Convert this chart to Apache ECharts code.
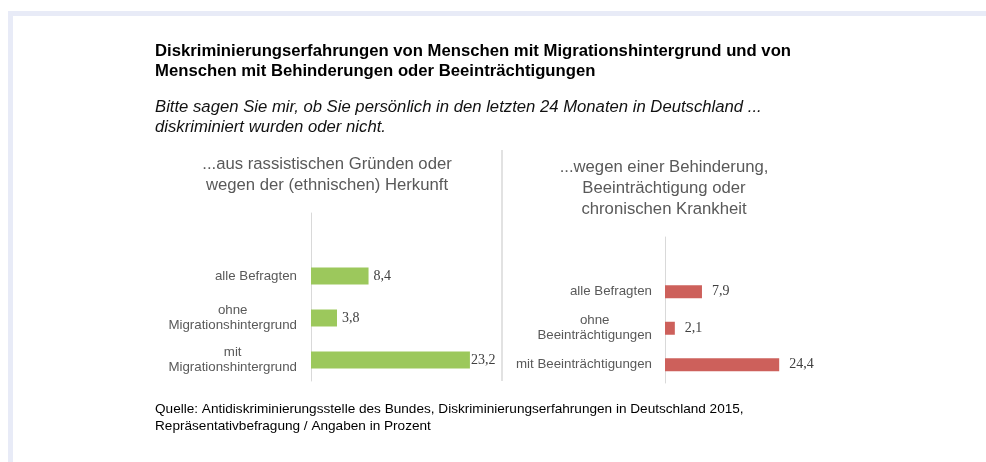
<!DOCTYPE html>
<html lang="de">
<head>
  <meta charset="UTF-8">
  <title>Diskriminierungserfahrungen</title>
  <style>
    html, body { margin: 0; padding: 0; background: #fff; }
    #chart { width: 986px; height: 462px; }
  </style>
</head>
<body>
<div id="chart"></div>
<script src="https://cdn.jsdelivr.net/npm/echarts@6/dist/echarts.min.js"></script>
<script>
  // data
  const leftCategories = ['alle Befragten', 'ohne\nMigrationshintergrund', 'mit\nMigrationshintergrund'];
  const leftValues = [8.4, 3.8, 23.2];
  const rightCategories = ['alle Befragten', 'ohne\nBeeinträchtigungen', 'mit Beeinträchtigungen'];
  const rightValues = [7.9, 2.1, 24.4];

  const mainTitle = 'Diskriminierungserfahrungen von Menschen mit Migrationshintergrund und von\nMenschen mit Behinderungen oder Beeinträchtigungen';
  const question = 'Bitte sagen Sie mir, ob Sie persönlich in den letzten 24 Monaten in Deutschland ...\ndiskriminiert wurden oder nicht.';
  const leftTitle = '...aus rassistischen Gründen oder\nwegen der (ethnischen) Herkunft';
  const rightTitle = '...wegen einer Behinderung,\nBeeinträchtigung oder\nchronischen Krankheit';
  const source = 'Quelle: Antidiskriminierungsstelle des Bundes, Diskriminierungserfahrungen in Deutschland 2015,\nRepräsentativbefragung / Angaben in Prozent';

  const SANS = 'Liberation Sans, Arial, sans-serif';
  const SERIF = 'Liberation Serif, Times New Roman, serif';
  const GREY = '#595959';

  const fmt = (v) => String(v).replace('.', ',');

  function catAxis(gridIndex, cats, margin) {
    return {
      type: 'category',
      gridIndex: gridIndex,
      inverse: true,
      // empty band on top so the axis line reaches above the bars
      data: [''].concat(cats),
      axisTick: {show: false},
      axisLine: {lineStyle: {color: '#d9d9d9', width: 1}},
      axisLabel: {
        margin: margin,
        interval: 0,
        formatter: (v) => v.split('\n').map(l => '{c|' + l + '}').join('\n'),
        rich: {c: {align: 'center', fontFamily: SANS, fontSize: 13.3, color: GREY, lineHeight: 15}}
      }
    };
  }

  function barSeries(idx, values, color, width, dist) {
    return {
      type: 'bar',
      xAxisIndex: idx,
      yAxisIndex: idx,
      barWidth: width,
      itemStyle: {color: color},
      label: {
        show: true,
        position: 'right',
        fontFamily: SERIF,
        fontSize: 14,
        color: '#404040',
        formatter: (p) => fmt(p.value)
      },
      data: ['-'].concat(values.map((v) => ({
        value: v,
        label: {distance: dist(v)}
      })))
    };
  }

  const chart = echarts.init(document.getElementById('chart'));
  chart.setOption({
    animation: false,
    backgroundColor: '#fff',
    title: [
      {text: mainTitle, left: 155, top: 41, padding: 0, textStyle: {fontFamily: SANS, fontSize: 16.7, fontWeight: 'bold', color: '#000', lineHeight: 20}},
      {text: question, left: 155, top: 97, padding: 0, textStyle: {fontFamily: SANS, fontSize: 16.7, fontStyle: 'italic', fontWeight: 'normal', color: '#111', lineHeight: 20}},
      {text: leftTitle, left: 327, top: 154, padding: 0, textAlign: 'center', textStyle: {fontFamily: SANS, fontSize: 16.7, fontWeight: 'normal', color: GREY, lineHeight: 21, align: 'center'}},
      {text: rightTitle, left: 664, top: 157, padding: 0, textAlign: 'center', textStyle: {fontFamily: SANS, fontSize: 16.7, fontWeight: 'normal', color: GREY, lineHeight: 21, align: 'center'}},
      {text: source, left: 155, top: 401, padding: 0, textStyle: {fontFamily: SANS, fontSize: 13.6, fontWeight: 'normal', color: '#000', lineHeight: 17}}
    ],
    grid: [
      {left: 311, top: 213, width: 171.25, height: 168, containLabel: false},
      {left: 665, top: 237, width: 117, height: 146, containLabel: false}
    ],
    xAxis: [
      {type: 'value', gridIndex: 0, min: 0, max: 25, show: false},
      {type: 'value', gridIndex: 1, min: 0, max: 25, show: false}
    ],
    yAxis: [
      catAxis(0, leftCategories, 14),
      catAxis(1, rightCategories, 13)
    ],
    series: [
      barSeries(0, leftValues, '#9cc85c', 17, (v) => v > 20 ? 1 : 5),
      barSeries(1, rightValues, '#cd605b', 13, () => 10)
    ],
    graphic: [
      {type: 'rect', shape: {x: 8, y: 11, width: 978, height: 5}, style: {fill: '#e8ebf7'}, silent: true},
      {type: 'rect', shape: {x: 8, y: 11, width: 5, height: 451}, style: {fill: '#e8ebf7'}, silent: true},
      {type: 'line', shape: {x1: 502, y1: 150, x2: 502, y2: 381}, style: {stroke: '#e2e2e2', lineWidth: 2}, silent: true}
    ]
  });
</script>
</body>
</html>
